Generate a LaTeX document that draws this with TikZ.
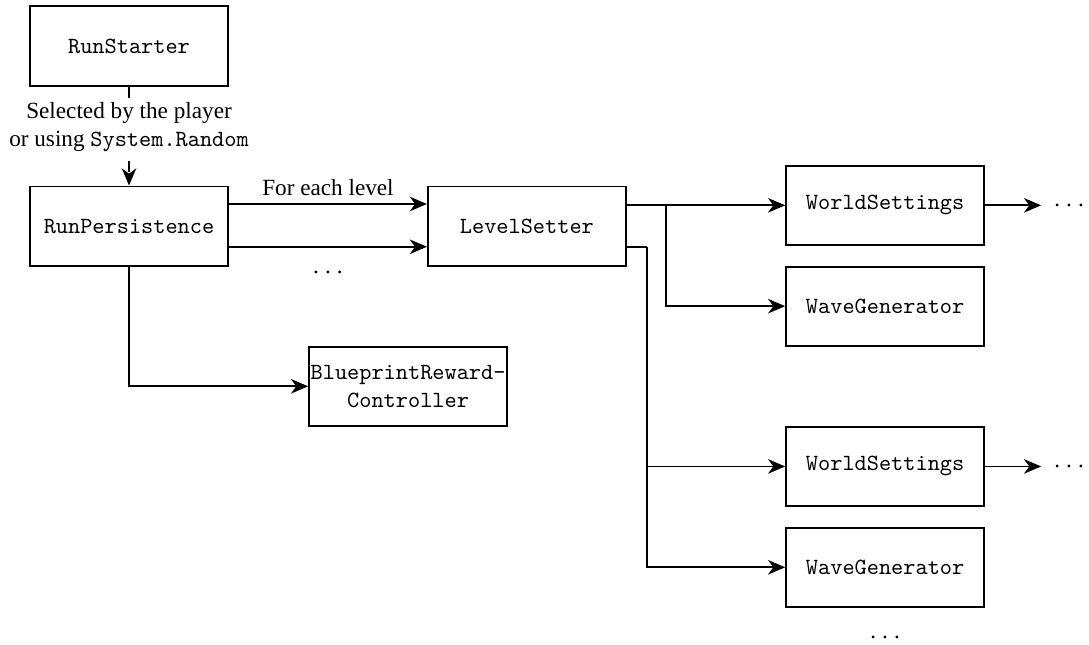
\documentclass[tikz,border=0pt]{standalone}
\usepackage{fontspec}
\setmainfont{Liberation Serif}
\usetikzlibrary{arrows.meta,calc,positioning}
\newcommand{\moredots}{.\hspace{2.6pt}.\hspace{2.6pt}.}
\tikzset{
  cbox/.style={draw,thick,minimum width=3cm,minimum height=1.2cm,inner sep=0pt,
    align=center,font=\ttfamily},
  flow/.style={-{Stealth[length=2.6mm,width=2.2mm,inset=0.8mm]},thick},
  wire/.style={thick},
  note/.style={align=center,fill=white,inner xsep=2pt,inner ysep=1pt},
  more/.style={inner sep=0pt,outer xsep=2mm}
}
\begin{document}
\begin{tikzpicture}[node distance=3cm]
    \useasboundingbox (0,0) rectangle (16.5,-9.758);
    \node[cbox] (starter) at (1.955,-0.697) {RunStarter};
    \node[cbox,below=1.5cm of starter] (persist) {RunPersistence};
    \node[cbox,right=of persist] (setter) {LevelSetter};
    \node[cbox,below right=1.2cm and 1.2cm of persist.south east] (reward) {BlueprintReward-\\Controller};
    % outputs of the level setter
    \coordinate (s1) at ($(setter.north east)+(0,-0.3)$);
    \coordinate (s2) at ($(setter.south east)+(0,0.3)$);
    \coordinate (b1) at ($(s1)+(0.6,0)$);
    \coordinate (b2) at ($(s2)+(0.3,0)$);
    \node[cbox,right=2.4cm of s1] (world1) {WorldSettings};
    \node[cbox,below=0.3cm of world1] (wave1) {WaveGenerator};
    \node[cbox,below=1.2cm of wave1] (world2) {WorldSettings};
    \node[cbox,below=0.3cm of world2] (wave2) {WaveGenerator};
    \node[more,right=0.85cm of world1] (next1) {\moredots};
    \node[more,right=0.85cm of world2] (next2) {\moredots};
    \node[more,below=0.42cm of wave2] (morelevels) {\moredots};
    \draw[flow,dash pattern=on 5pt off 3pt] (starter) -- node[note,pos=0.41] (pick) {Selected by the player\\or using \texttt{System.Random}} (persist);
    \draw[flow] ($(persist.north east)+(0,-0.28)$) -- node[above] (each) {For each level} ($(setter.north west)+(0,-0.28)$);
    \draw[flow] ($(persist.south east)+(0,0.3)$) -- node[more,below=3.6mm] (moreruns) {\moredots} ($(setter.south west)+(0,0.3)$);
    \draw[flow] (persist) |- (reward);
    \draw[flow] (s1) -- (world1);
    \draw[flow] (b1) |- (wave1);
    \draw[wire] (s2) -- (b2);
    \draw[flow] (b2) |- (world2);
    \draw[flow] (b2) |- (wave2);
    \draw[flow] (world1) -- (next1);
    \draw[flow] (world2) -- (next2);
\end{tikzpicture}
\end{document}
